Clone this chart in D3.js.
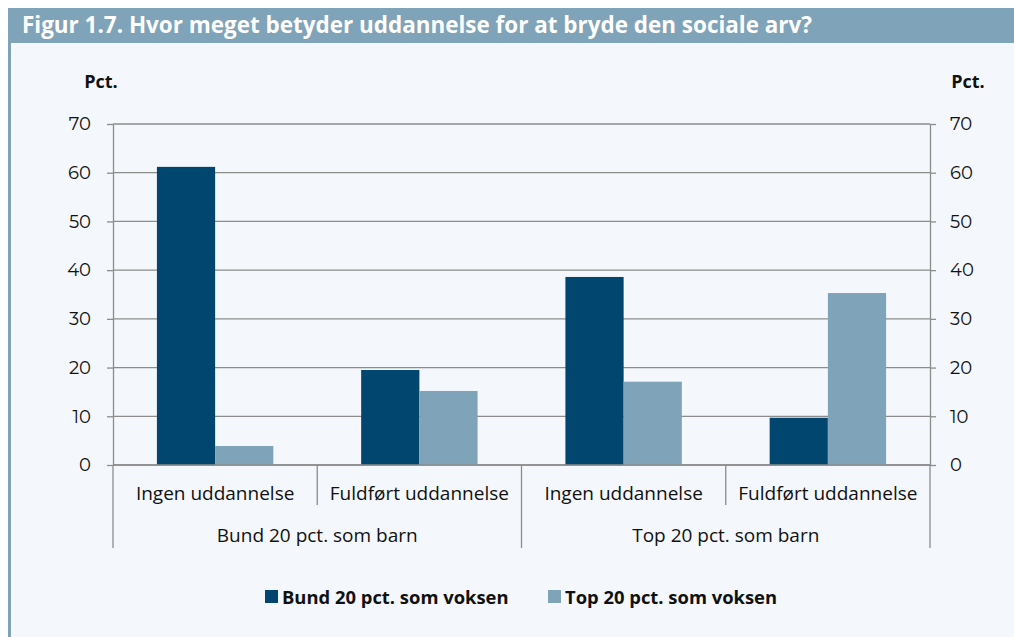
<!DOCTYPE html>
<head>
  <meta charset="utf-8">
  <style>
    body { margin: 0; background: #fff; }
    .bund { fill: #00466e; }
    .top { fill: #7fa3b8; }
    text { font-family: "Open Sans", sans-serif; fill: #111; }
  </style>
  <script src="https://d3js.org/d3.v7.min.js"></script>
</head>
<body>
  <div id="content"></div>
  <script>
  // data
  var groups = ["Bund 20 pct. som barn", "Top 20 pct. som barn"];
  var subCats = ["Ingen uddannelse", "Fuldført uddannelse"];
  var seriesNames = ["Bund 20 pct. som voksen", "Top 20 pct. som voksen"];
  var bundVoksen = [61.2, 19.5, 38.6, 9.7];
  var topVoksen = [3.9, 15.2, 17.1, 35.3];
  var yTicks = [0, 10, 20, 30, 40, 50, 60, 70];

  var W = 1014, H = 637;
  var margin = {top: 124, left: 113, right: 84, bottom: 172};
  var width = W - margin.left - margin.right,
      height = H - margin.top - margin.bottom;

  var svg = d3.select("#content").append("svg")
      .attr("width", W)
      .attr("height", H);

  // panel background + frame
  svg.append("rect").attr("x", 8).attr("y", 8).attr("width", W - 8).attr("height", H - 8).attr("fill", "#f4f8fc");
  svg.append("rect").attr("x", 8).attr("y", 8).attr("width", 3).attr("height", H - 8).attr("fill", "#7fa3b8");
  svg.append("rect").attr("x", 8).attr("y", 8).attr("width", W - 8).attr("height", 35).attr("fill", "#7fa3b8");
  svg.append("text")
      .attr("x", 22).attr("y", 33)
      .attr("textLength", 790).attr("lengthAdjust", "spacingAndGlyphs")
      .style("font-size", "23px").style("font-weight", "bold").style("fill", "#fff")
      .text("Figur 1.7. Hvor meget betyder uddannelse for at bryde den sociale arv?");

  var g = svg.append("g")
      .attr("transform", "translate(" + margin.left + "," + margin.top + ")");

  // scales
  var cats = d3.range(bundVoksen.length);
  var x = d3.scaleBand().domain(cats).range([0, width]).paddingInner(0).paddingOuter(0);
  var xs = d3.scaleBand().domain([0, 1]).range([x.bandwidth() * 0.215, x.bandwidth() * 0.785]);
  var y = d3.scaleLinear().domain([0, 70]).range([height, 0]);

  // grid
  g.selectAll(".grid").data(yTicks).enter().append("line")
      .attr("x1", 0).attr("x2", width)
      .attr("y1", function(d) { return y(d); }).attr("y2", function(d) { return y(d); })
      .attr("stroke", "#8c8c8c").attr("stroke-width", 1.3);

  // axes
  function styleAxis(sel) {
    sel.select(".domain").attr("stroke", "#8c8c8c").attr("stroke-width", 1.3);
    sel.selectAll(".tick line").attr("stroke", "#8c8c8c").attr("stroke-width", 1.3);
    sel.selectAll(".tick text").style("font-size", "18px").style("font-family", "Montserrat, 'Noto Sans', sans-serif").attr("fill", "#111");
  }
  g.append("g")
      .call(d3.axisLeft(y).tickValues(yTicks).tickSize(6).tickSizeOuter(0).tickPadding(16))
      .call(styleAxis);
  g.append("g")
      .attr("transform", "translate(" + width + ",0)")
      .call(d3.axisRight(y).tickValues(yTicks).tickSize(6).tickSizeOuter(0).tickPadding(14))
      .call(styleAxis);

  // bars
  var series = [bundVoksen, topVoksen];
  var cls = ["bund", "top"];
  series.forEach(function(vals, s) {
    g.selectAll(".bar" + s).data(vals).enter().append("rect")
        .attr("class", cls[s])
        .attr("x", function(d, i) { return x(i) + xs(s); })
        .attr("width", xs.bandwidth())
        .attr("y", function(d) { return y(d); })
        .attr("height", function(d) { return height - y(d); });
  });

  // x axis baseline
  g.append("line").attr("x1", 0).attr("x2", width).attr("y1", height).attr("y2", height)
      .attr("stroke", "#8c8c8c").attr("stroke-width", 1.3);

  // category separators
  var bounds = d3.range(bundVoksen.length + 1);
  g.selectAll(".sep").data(bounds).enter().append("line")
      .attr("x1", function(d) { return d * x.bandwidth(); })
      .attr("x2", function(d) { return d * x.bandwidth(); })
      .attr("y1", height)
      .attr("y2", function(d) { return d % 2 === 0 ? height + 83 : height + 40; })
      .attr("stroke", "#8c8c8c").attr("stroke-width", 1.3);

  // sub category labels
  g.selectAll(".sublab").data(cats).enter().append("text")
      .attr("x", function(d) { return x(d) + x.bandwidth() / 2; })
      .attr("y", height + 35)
      .attr("text-anchor", "middle")
      .style("font-size", "19px")
      .text(function(d) { return subCats[d % 2]; });

  // group labels
  g.selectAll(".grplab").data(groups).enter().append("text")
      .attr("x", function(d, i) { return (i + 0.5) * 2 * x.bandwidth(); })
      .attr("y", height + 77)
      .attr("text-anchor", "middle")
      .style("font-size", "19px")
      .text(function(d) { return d; });

  // Pct. labels
  svg.append("text").attr("x", 101).attr("y", 88).attr("text-anchor", "middle")
      .style("font-size", "18px").style("font-weight", "bold").text("Pct.");
  svg.append("text").attr("x", 968).attr("y", 88).attr("text-anchor", "middle")
      .style("font-size", "18px").style("font-weight", "bold").text("Pct.");

  // legend
  var legX = [265, 548];
  var leg = svg.selectAll(".leg").data(seriesNames).enter().append("g")
      .attr("transform", function(d, i) { return "translate(" + legX[i] + ",590)"; });
  leg.append("rect").attr("width", 13).attr("height", 13)
      .attr("class", function(d, i) { return cls[i]; });
  leg.append("text").attr("x", 17).attr("y", 14)
      .style("font-size", "18.4px").style("font-weight", "bold")
      .text(function(d) { return d; });
  </script>
</body>
</html>
